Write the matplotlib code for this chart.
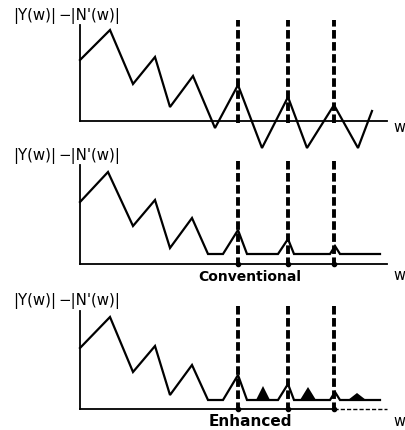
import matplotlib

matplotlib.use("Agg")
import matplotlib.pyplot as plt

# spectral-subtraction sketch: |Y(w)| - |N'(w)| before/after enhancement
# frequency axis and amplitudes
w_raw = [0, 30, 53, 75, 90, 113, 135, 158, 182, 208, 227, 254, 278, 292]
amp_raw = [61, 91, 37, 64, 14, 45, -7, 36, -27, 24, -27, 16, -27, 10]

w_conv = [0, 28, 53, 75, 90, 112, 128, 143, 158, 167, 198, 208, 214, 250, 255, 260, 300]
amp_conv = [62, 92, 38, 64, 16, 46, 10, 10, 34, 10, 10, 25, 10, 10, 18, 10, 10]

w_enh = [0, 30, 53, 75, 90, 112, 128, 143, 158, 167, 198, 208, 214, 250, 255, 260, 300]
amp_enh = [61, 92, 37, 63, 14, 44, 9, 9, 34, 9, 9, 25, 9, 9, 17, 9, 9]

# residual "musical noise" bumps left by the enhanced method
bump_center = [183, 228, 277]
bump_half = [7, 8, 9]
bump_peak = [23, 22, 16]

harmonics = [158, 208, 254]   # pitch harmonics (dashed markers)
axis_end = 307
label_left, label_right = "|Y(w)|", "\u2212|N'(w)|"

# pixel rows of each panel in the 406x430 canvas, plus its baseline row
panels = [
    dict(rows=(0, 140), base=121, w=w_raw, a=amp_raw, title=None, ytop=96, dots=False),
    dict(rows=(140, 285), base=264, w=w_conv, a=amp_conv, title="Conventional", ytop=99, dots=True),
    dict(rows=(285, 430), base=409, w=w_enh, a=amp_enh, title="Enhanced", ytop=98, dots=True),
]

H = 430.0
fig = plt.figure(figsize=(4.06, 4.30), dpi=100)

for i, p in enumerate(panels):
    r0, r1 = p["rows"]
    ax = fig.add_axes([0, (H - r1) / H, 1, (r1 - r0) / H])
    ax.set_xlim(-80, 326)
    ax.set_ylim(p["base"] - r1, p["base"] - r0)
    ax.axis("off")

    # axes drawn by hand, like the original figure
    ax.plot([0, 0], [0, p["ytop"]], color="black", lw=1.3)
    if i == 2:
        ax.plot([0, harmonics[-1]], [0, 0], color="black", lw=1.3)
        ax.plot([harmonics[-1], axis_end], [0, 0], color="black", lw=1.0, dashes=(3, 1.5))
    else:
        ax.plot([0, axis_end], [0, 0], color="black", lw=1.3)

    ax.plot(p["w"], p["a"], color="black", lw=1.6, solid_joinstyle="miter", clip_on=False)

    for h in harmonics:
        top = 101 if i == 0 else 104
        ax.plot([h, h], [-2, top], color="black", lw=2.8, dashes=(2.2, 0.9), clip_on=False)
        if p["dots"]:
            ax.plot([h], [0], "o", color="black", ms=3)

    if i == 2:
        for c, hw, pk in zip(bump_center, bump_half, bump_peak):
            ax.fill([c - hw, c, c + hw], [9, pk, 9], color="black", lw=0)

    ty = p["base"] - (r0 + 16)
    ax.text(-67, ty, label_left, fontsize=10.8, ha="left", va="center")
    ax.text(-22, ty, label_right, fontsize=10.8, ha="left", va="center")

    w_row = 127 if i == 0 else (275 if i == 1 else 421)
    ax.text(319, p["base"] - w_row, "w", fontsize=10.5, ha="center", va="center")
    if p["title"]:
        t_row = 277 if i == 1 else 422
        size = 10 if i == 1 else 11
        ax.text(170, p["base"] - t_row, p["title"], fontsize=size, ha="center",
                va="center", fontweight="bold")

fig.savefig("out.png", dpi=100)
